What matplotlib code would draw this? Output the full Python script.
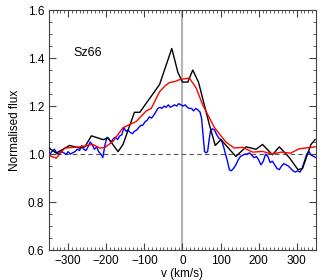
import matplotlib
matplotlib.use("Agg")
import matplotlib.pyplot as plt
from matplotlib.ticker import MultipleLocator

plt.rcParams['font.family'] = ['Liberation Sans', 'DejaVu Sans']

# black profile
v_black = [-350, -331, -296, -270, -256, -239, -208, -195, -169, -156, -126, -112,
           -60, -28, -12, 0, 14, 27, 42, 71, 86, 101, 140, 167, 193, 210, 236, 254,
           280, 303, 315, 337, 348]
f_black = [1.025, 1.004, 1.036, 1.025, 1.03, 1.076, 1.06, 1.067, 1.01, 1.04, 1.174, 1.174,
           1.29, 1.44, 1.34, 1.30, 1.30, 1.35, 1.30, 1.12, 1.036, 1.06, 0.99, 1.03, 1.02,
           1.04, 0.997, 1.03, 0.986, 0.935, 0.94, 1.04, 1.06]

# red profile
v_red = [-350, -331, -309, -270, -235, -217, -204, -182, -156, -121, -95, -82, -60,
         -45, -34, -20, -8, 18, 36, 53, 84, 114, 136, 158, 184, 210, 236, 258, 284, 306, 348]
f_red = [0.994, 0.983, 1.025, 1.03, 1.04, 1.025, 1.027, 1.053, 1.11, 1.136, 1.18, 1.19,
         1.26, 1.285, 1.298, 1.302, 1.31, 1.317, 1.275, 1.205, 1.11, 1.05, 1.025, 1.028,
         1.008, 1.011, 1.0, 1.008, 1.004, 1.022, 1.03]

# blue profile
v_blue = [-350, -343, -336, -330, -325, -318, -311, -305, -300, -294, -288, -282, -276,
          -270, -264, -259, -253, -248, -242, -237, -231, -225, -220, -214, -209, -203,
          -198, -192, -187, -181, -176, -170, -165, -159, -154, -148, -143, -137, -131,
          -126, -120, -115, -109, -104, -98, -93, -87, -81, -76, -70, -65, -59, -54, -48,
          -43, -37, -32, -26, -21, -15, -10, -4, 2, 7, 13, 18, 24, 29, 35, 40, 46, 50, 54,
          58, 62, 66, 70, 74, 79, 84, 90, 96, 102, 108, 113, 118, 123, 128, 134, 140, 146,
          152, 158, 164, 170, 176, 182, 188, 194, 200, 206, 212, 218, 224, 230, 236, 242,
          248, 254, 260, 266, 272, 278, 284, 290, 296, 302, 308, 314, 320, 326, 332, 338,
          344, 350]
f_blue = [0.995, 1.01, 1.02, 1.005, 1.0, 1.01, 1.005, 0.998, 1.01, 1.0, 1.005, 1.01, 1.02,
          1.015, 1.035, 1.02, 1.015, 1.03, 1.05, 1.04, 1.02, 1.03, 1.01, 1.0, 0.985, 1.04,
          1.07, 1.06, 1.05, 1.065, 1.07, 1.06, 1.075, 1.08, 1.11, 1.095, 1.10, 1.09, 1.085,
          1.095, 1.10, 1.11, 1.12, 1.12, 1.135, 1.14, 1.155, 1.15, 1.16, 1.175, 1.19, 1.195,
          1.19, 1.20, 1.195, 1.205, 1.195, 1.20, 1.205, 1.20, 1.21, 1.205, 1.20, 1.205,
          1.195, 1.19, 1.19, 1.18, 1.19, 1.185, 1.175, 1.15, 1.08, 1.01, 1.005, 1.01, 1.06,
          1.10, 1.105, 1.10, 1.08, 1.065, 1.06, 1.03, 1.0, 0.97, 0.935, 0.93, 0.94, 0.955,
          0.975, 0.99, 0.995, 1.0, 1.0, 1.005, 0.995, 0.985, 0.99, 0.975, 0.955, 0.97, 1.0,
          0.99, 0.965, 0.97, 0.955, 0.94, 0.935, 0.95, 0.96, 0.955, 0.95, 0.94, 0.93, 0.925,
          0.93, 0.925, 0.94, 0.97, 1.0, 1.01, 0.995, 0.99, 0.985]

fig = plt.figure(figsize=(3.27, 2.80), dpi=100)
ax = fig.add_axes([0.150, 0.107, 0.816, 0.857])

ax.axvline(0, color='#b4b4b4', lw=1.5, zorder=1)
ax.axhline(1.0, color='#555555', lw=0.8, ls=(0, (4, 3)), zorder=1)
ax.plot(v_black, f_black, color='black', lw=1.0, zorder=3)
ax.plot(v_red, f_red, color='red', lw=1.0, zorder=4)
ax.plot(v_blue, f_blue, color='blue', lw=1.0, zorder=2)

ax.set_xlim(-350, 350)
ax.set_ylim(0.6, 1.6)
ax.xaxis.set_major_locator(MultipleLocator(100))
ax.xaxis.set_minor_locator(MultipleLocator(10))
ax.yaxis.set_major_locator(MultipleLocator(0.2))
ax.yaxis.set_minor_locator(MultipleLocator(0.05))
ax.tick_params(which='both', direction='in', top=True, right=True, labelsize=8.5,
               color='#444444')
ax.tick_params(which='major', length=5, width=0.8)
ax.tick_params(which='minor', length=2.5, width=0.6)
for s in ax.spines.values():
    s.set_color('#444444')
    s.set_linewidth(0.8)

ax.set_xlabel('v (km/s)', fontsize=8.5, labelpad=1)
ax.set_ylabel('Normalised flux', fontsize=8.5, labelpad=5)
ax.text(-285, 1.42, 'Sz66', fontsize=9, va='center', ha='left')

fig.savefig('out.png', dpi=100)
